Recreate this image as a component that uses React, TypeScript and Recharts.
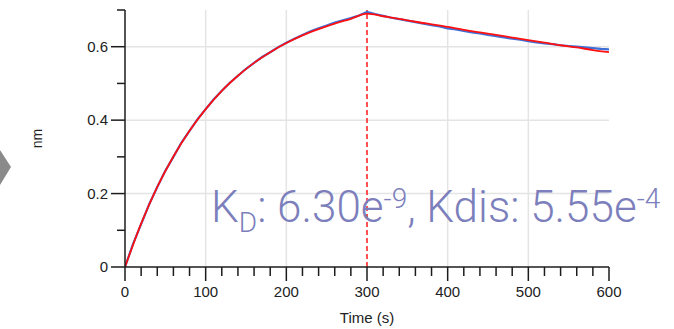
import { ComposedChart, Line, XAxis, YAxis, ReferenceLine } from "recharts";

// measured response (blue), one reading every 10 s
const measuredTime = [
  0, 10, 20, 30, 40, 50, 60, 70, 80, 90, 100, 110, 120, 130, 140, 150, 160, 170, 180, 190, 200,
  210, 220, 230, 240, 250, 260, 270, 280, 290, 300, 310, 320, 330, 340, 350, 360, 370, 380, 390, 400,
  410, 420, 430, 440, 450, 460, 470, 480, 490, 500, 510, 520, 530, 540, 550, 560, 570, 580, 590, 600,
];
const measuredNm = [
  0.0, 0.063, 0.117, 0.171, 0.218, 0.262, 0.3, 0.339, 0.371, 0.403, 0.43, 0.457, 0.48, 0.502, 0.521,
  0.54, 0.556, 0.572, 0.585, 0.599, 0.611, 0.622, 0.632, 0.642, 0.65, 0.658, 0.666, 0.672, 0.678, 0.685,
  0.695, 0.689, 0.684, 0.679, 0.675, 0.671, 0.667, 0.663, 0.659, 0.655, 0.65, 0.647, 0.643, 0.639, 0.636,
  0.632, 0.629, 0.625, 0.622, 0.619, 0.615, 0.612, 0.609, 0.607, 0.604, 0.602, 0.6, 0.598, 0.596, 0.594,
  0.593,
];

// fitted curve (red), every 20 s
const fitTime = [
  0, 20, 40, 60, 80, 100, 120, 140, 160, 180, 200, 220, 240, 260, 280, 300,
  320, 340, 360, 380, 400, 420, 440, 460, 480, 500, 520, 540, 560, 580, 600,
];
const fitNm = [
  0.0, 0.118, 0.218, 0.301, 0.371, 0.43, 0.48, 0.521, 0.556, 0.585, 0.61, 0.631, 0.648, 0.663, 0.676, 0.69,
  0.683, 0.676, 0.668, 0.661, 0.654, 0.646, 0.639, 0.632, 0.625, 0.618, 0.611, 0.604, 0.598, 0.591, 0.585,
];

const xTicks = [
  0, 20, 40, 60, 80, 100, 120, 140, 160, 180, 200, 220, 240, 260, 280, 300,
  320, 340, 360, 380, 400, 420, 440, 460, 480, 500, 520, 540, 560, 580, 600,
];
const xLabelled = [0, 100, 200, 300, 400, 500, 600];
const yTicks = [0, 0.1, 0.2, 0.3, 0.4, 0.5, 0.6, 0.7];
const yLabelled = [0, 0.2, 0.4, 0.6];
const gridX = [100, 200, 400, 500];
const gridY = [0.2, 0.4, 0.6];
const phaseSwitch = 300;

const measured = measuredTime.map((t, i) => ({ t, v: measuredNm[i] }));
const fitted = fitTime.map((t, i) => ({ t, v: fitNm[i] }));

const axisColor = "#1c1c1c";
const tickFont = { fontFamily: "Liberation Sans, Arial, sans-serif", fontSize: 15, fill: "#222" };

const XTick = ({ x, y, payload }: any) => {
  const major = xLabelled.includes(payload.value);
  return (
    <g>
      <line x1={x} x2={x} y1={y} y2={y + (major ? 14 : 9)} stroke={axisColor} strokeWidth={1.5} />
      {major && (
        <text x={x} y={y + 30} textAnchor="middle" {...tickFont}>
          {payload.value}
        </text>
      )}
    </g>
  );
};

const YTick = ({ x, y, payload }: any) => {
  const major = yLabelled.includes(payload.value);
  return (
    <g>
      <line x1={x - (major ? 14 : 8)} x2={x} y1={y} y2={y} stroke={axisColor} strokeWidth={1.5} />
      {major && (
        <text x={x - 17} y={y + 5} textAnchor="end" {...tickFont}>
          {payload.value}
        </text>
      )}
    </g>
  );
};

export default function App() {
  return (
    <div style={{ position: "absolute", left: 0, top: 0, width: 674, height: 329, background: "#fff" }}>
      {/* grey arrow cut off at the left edge */}
      <svg width={20} height={329} style={{ position: "absolute", left: 0, top: 0 }}>
        <polygon points="0,150 11,167 0,185" fill="#8a8a8a" />
      </svg>

      <ComposedChart width={674} height={329} margin={{ top: 10, right: 65, bottom: 0, left: 0 }}>
        <XAxis
          dataKey="t"
          type="number"
          domain={[0, 600]}
          ticks={xTicks}
          interval={0}
          tickSize={0}
          tickMargin={0}
          tickLine={false}
          tick={<XTick />}
          axisLine={{ stroke: axisColor, strokeWidth: 1.5 }}
          height={62}
          allowDataOverflow
          label={{
            value: "Time (s)",
            position: "insideBottom",
            offset: 6,
            style: { fontFamily: "Liberation Sans, Arial, sans-serif", fontSize: 15, fill: "#222" },
          }}
        />
        <YAxis
          dataKey="v"
          type="number"
          domain={[0, 0.7]}
          ticks={yTicks}
          interval={0}
          tickSize={0}
          tickMargin={0}
          tickLine={false}
          tick={<YTick />}
          axisLine={{ stroke: axisColor, strokeWidth: 1.5 }}
          width={125}
          allowDataOverflow
          label={{
            value: "nm",
            angle: -90,
            position: "center",
            dx: -25,
            style: { fontFamily: "Liberation Sans, Arial, sans-serif", fontSize: 14, fill: "#222" },
          }}
        />
        {gridX.map((g) => (
          <ReferenceLine key={"gx" + g} x={g} stroke="#e4e4e4" strokeWidth={1.5} />
        ))}
        {gridY.map((g) => (
          <ReferenceLine key={"gy" + g} y={g} stroke="#e4e4e4" strokeWidth={1.5} />
        ))}
        <ReferenceLine x={phaseSwitch} stroke="#ff1a1a" strokeWidth={1.5} strokeDasharray="5 3" />
        <Line
          data={measured}
          dataKey="v"
          type="linear"
          stroke="#3f6fd6"
          strokeWidth={2.2}
          dot={false}
          activeDot={false}
          isAnimationActive={false}
        />
        <Line
          data={fitted}
          dataKey="v"
          type="monotone"
          stroke="#ff1010"
          strokeWidth={1.8}
          dot={false}
          activeDot={false}
          isAnimationActive={false}
        />
      </ComposedChart>

      <svg width={674} height={329} style={{ position: "absolute", left: 0, top: 0, pointerEvents: "none" }}>
        <text
          x={211}
          y={222}
          fill="#7c7fbc"
          fontFamily="Roboto, Lato, 'Liberation Sans', sans-serif"
          fontWeight={300}
          fontSize={44}
        >
          K
          <tspan fontSize={28} dy={10}>D</tspan>
          <tspan dy={-10}>: 6.30e</tspan>
          <tspan fontSize={28} dy={-14}>-9</tspan>
          <tspan dy={14}>, Kdis: 5.55e</tspan>
          <tspan fontSize={28} dy={-14}>-4</tspan>
        </text>
      </svg>
    </div>
  );
}
